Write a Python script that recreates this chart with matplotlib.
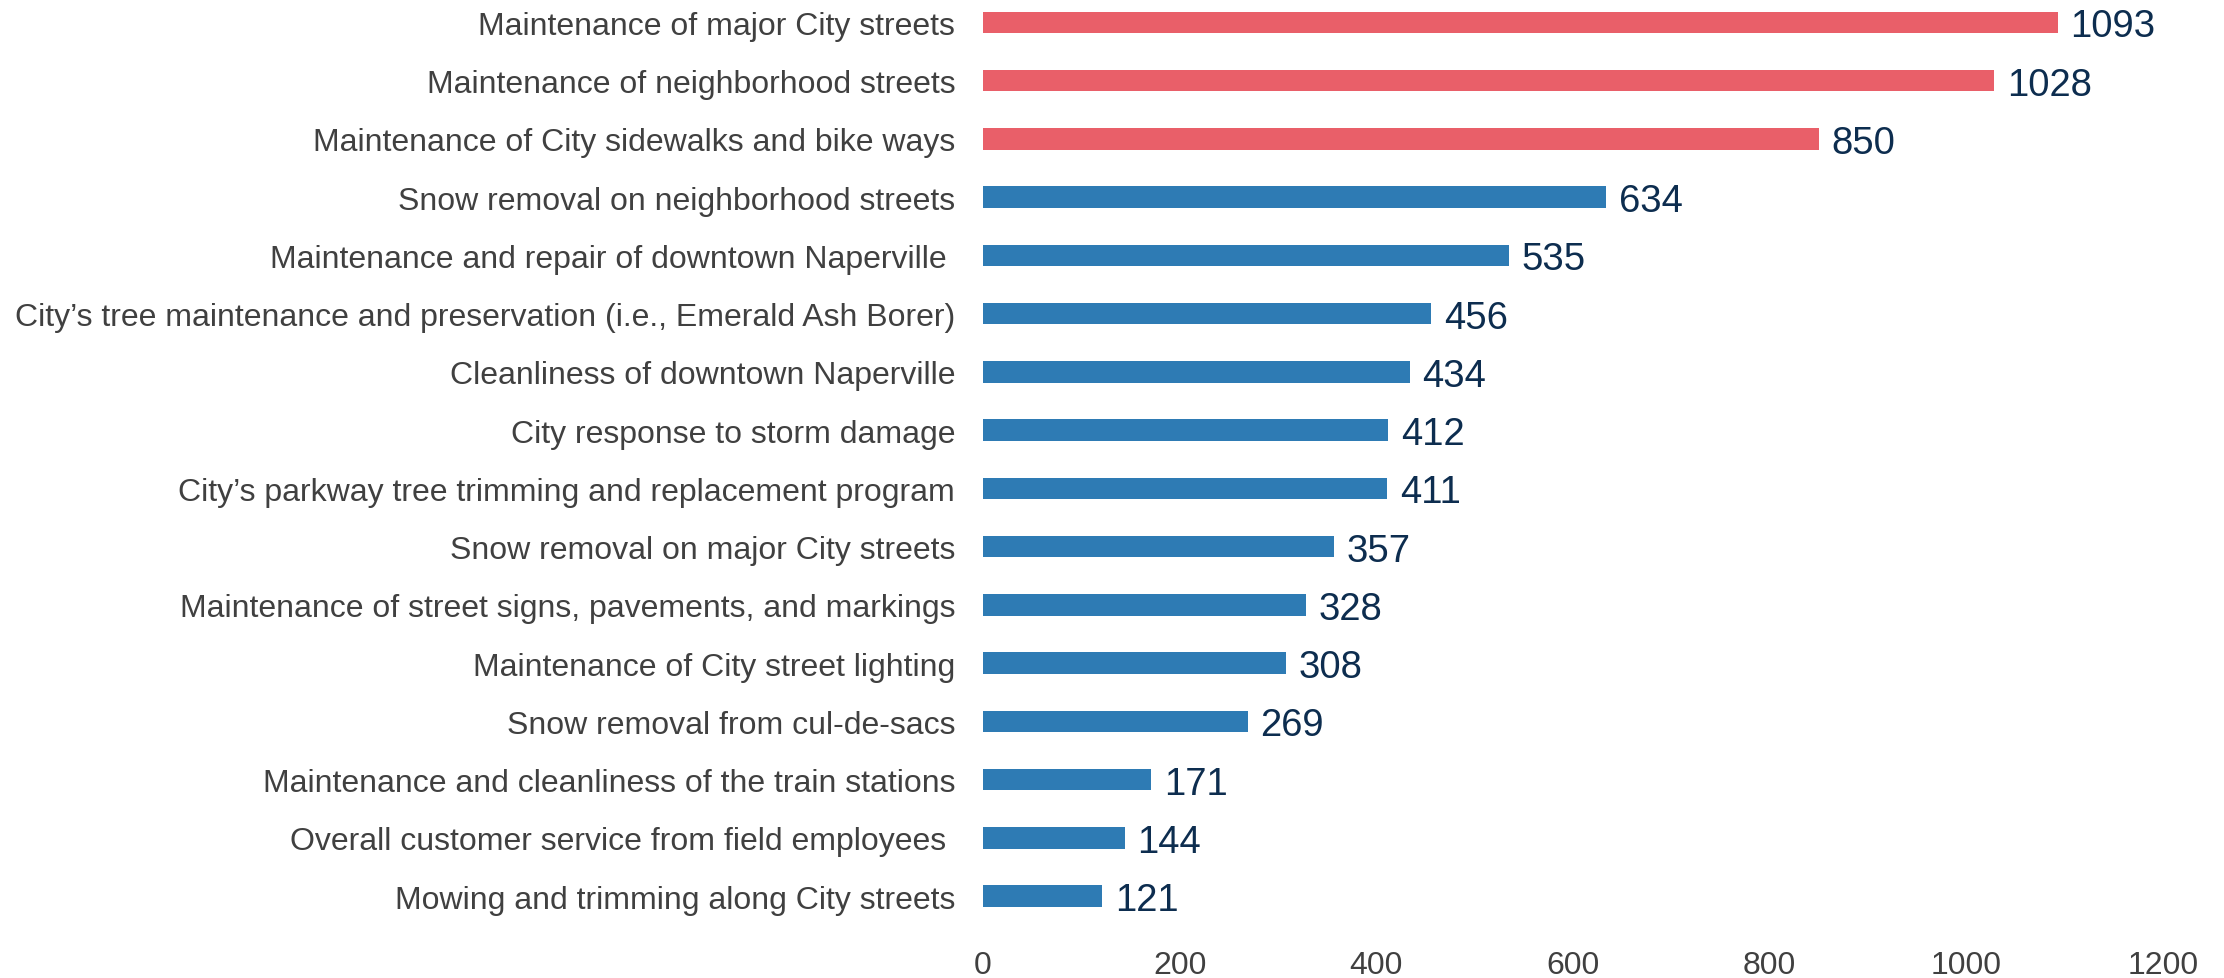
import matplotlib
matplotlib.use("Agg")
import matplotlib.pyplot as plt

categories = [
    "Maintenance of major City streets",
    "Maintenance of neighborhood streets",
    "Maintenance of City sidewalks and bike ways",
    "Snow removal on neighborhood streets",
    "Maintenance and repair of downtown Naperville ",
    "City\u2019s tree maintenance and preservation (i.e., Emerald Ash Borer)",
    "Cleanliness of downtown Naperville",
    "City response to storm damage",
    "City\u2019s parkway tree trimming and replacement program",
    "Snow removal on major City streets",
    "Maintenance of street signs, pavements, and markings",
    "Maintenance of City street lighting",
    "Snow removal from cul-de-sacs",
    "Maintenance and cleanliness of the train stations",
    "Overall customer service from field employees ",
    "Mowing and trimming along City streets",
]
values = [1093, 1028, 850, 634, 535, 456, 434, 412, 411, 357, 328, 308, 269, 171, 144, 121]
highlight = [True, True, True] + [False] * 13
xticks = [0, 200, 400, 600, 800, 1000, 1200]

RED = "#E95F69"
BLUE = "#2E7BB4"
VAL = "#0D2D4F"
LAB = "#404040"

plt.rcParams['font.family'] = ['Liberation Sans', 'DejaVu Sans']

fig = plt.figure(figsize=(22.24, 9.79), dpi=100)
ax = fig.add_axes([983 / 2224, 1 - 925 / 979, (2163 - 983) / 2224, 925 / 979])

n = len(categories)
ypos = list(range(n - 1, -1, -1))
colors = [RED if h else BLUE for h in highlight]
ax.barh(ypos, values, height=0.37, color=colors)

for y, v in zip(ypos, values):
    ax.text(v + 13, y, str(v), va="center_baseline", ha="left", fontsize=27.5, color=VAL)

ax.set_yticks(ypos)
ax.set_yticklabels(categories, fontsize=23, color=LAB)
ax.set_xticks(xticks)
ax.set_xticklabels([str(t) for t in xticks], fontsize=23, color=LAB)
ax.set_xlim(0, 1200)
ax.set_ylim(-0.48, 15.40)
ax.tick_params(axis="y", length=0, pad=20)
ax.tick_params(axis="x", length=0, pad=19)
for s in ax.spines.values():
    s.set_visible(False)

fig.savefig("out.png", dpi=100)
